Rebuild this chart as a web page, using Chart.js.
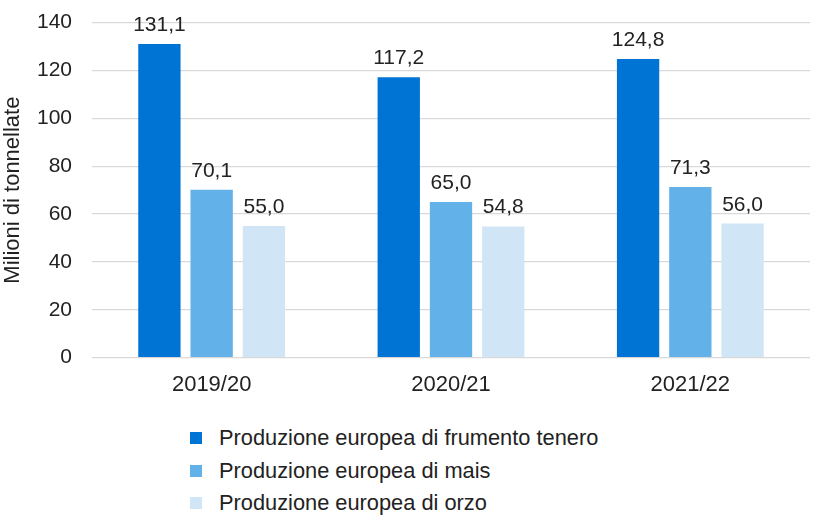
<!DOCTYPE html>
<html lang="it">
<head>
<meta charset="utf-8">
<title>Produzione europea di cereali</title>
<script src="https://cdn.jsdelivr.net/npm/chart.js@4.4.1/dist/chart.umd.min.js"></script>
<style>
  html, body { margin: 0; padding: 0; background: #fff; }
  body { position: relative; width: 820px; height: 524px; overflow: hidden; font-family: "Liberation Sans", Arial, sans-serif; }
  #wrap { position: absolute; left: 0; top: -10px; width: 820px; height: 418px; }
  #legend { position: absolute; left: 190px; top: 422px; list-style: none; margin: 0; padding: 0; }
  #legend li { height: 32.5px; line-height: 32.5px; font-size: 21.8px; color: #222; display: flex; align-items: center; white-space: nowrap; }
  #legend span.box { width: 12px; height: 12px; margin-right: 17px; display: inline-block; }
</style>
</head>
<body>
<div id="wrap"><canvas id="chart"></canvas></div>
<ul id="legend"></ul>

<script>
const categories = ["2019/20", "2020/21", "2021/22"];
const seriesNames = [
  "Produzione europea di frumento tenero",
  "Produzione europea di mais",
  "Produzione europea di orzo"
];
const frumento = [131.1, 117.2, 124.8];
const mais = [70.1, 65.0, 71.3];
const orzo = [55.0, 54.8, 56.0];
const yTicks = [0, 20, 40, 60, 80, 100, 120, 140];

const colors = ["#0074d4", "#62b1e9", "#d0e6f7"];
const FONT = "'Liberation Sans', Arial, sans-serif";

/* ======================================
   VALUE LABELS ABOVE BARS
====================================== */
const valueLabels = {
  id: "valueLabels",
  afterDatasetsDraw(chart) {
    const ctx = chart.ctx;
    ctx.save();
    ctx.font = "21px " + FONT;
    ctx.fillStyle = "#222";
    ctx.textAlign = "center";
    ctx.textBaseline = "alphabetic";
    chart.data.datasets.forEach((ds, i) => {
      chart.getDatasetMeta(i).data.forEach((bar, j) => {
        const txt = ds.data[j].toFixed(1).replace(".", ",");
        ctx.fillText(txt, bar.x, bar.y - 13);
      });
    });
    ctx.restore();
  }
};

const chart = new Chart(document.getElementById("chart"), {
  type: "bar",
  data: {
    labels: categories,
    datasets: [frumento, mais, orzo].map((d, i) => ({
      label: seriesNames[i],
      data: d,
      backgroundColor: colors[i]
    }))
  },
  options: {
    responsive: true,
    maintainAspectRatio: false,
    animation: false,
    layout: { padding: { top: 2, right: 10, bottom: 4, left: 0 } },
    datasets: { bar: { categoryPercentage: 0.655, barPercentage: 0.81 } },
    plugins: {
      legend: { display: false },
      tooltip: { enabled: false }
    },
    scales: {
      x: {
        grid: { display: false },
        border: { display: false },
        ticks: { color: "#222", font: { family: FONT, size: 22 }, padding: 6 }
      },
      y: {
        min: 0,
        max: 140,
        afterBuildTicks: axis => { axis.ticks = yTicks.map(v => ({ value: v })); },
        afterFit: axis => { axis.width = 92; },
        grid: { color: "#d9d9d9", lineWidth: 1.3, drawTicks: false },
        border: { display: false },
        ticks: { color: "#222", font: { family: FONT, size: 21 }, padding: 20 },
        title: {
          display: true,
          text: "Milioni di tonnellate",
          color: "#222",
          font: { family: FONT, size: 22 },
          padding: { top: 0, bottom: 0 }
        }
      }
    }
  },
  plugins: [valueLabels]
});

/* ======================================
   LEGEND (stacked, under the chart)
====================================== */
document.getElementById("legend").innerHTML = chart.data.datasets
  .map(ds => `<li><span class="box" style="background:${ds.backgroundColor}"></span>${ds.label}</li>`)
  .join("");
</script>
</body>
</html>
